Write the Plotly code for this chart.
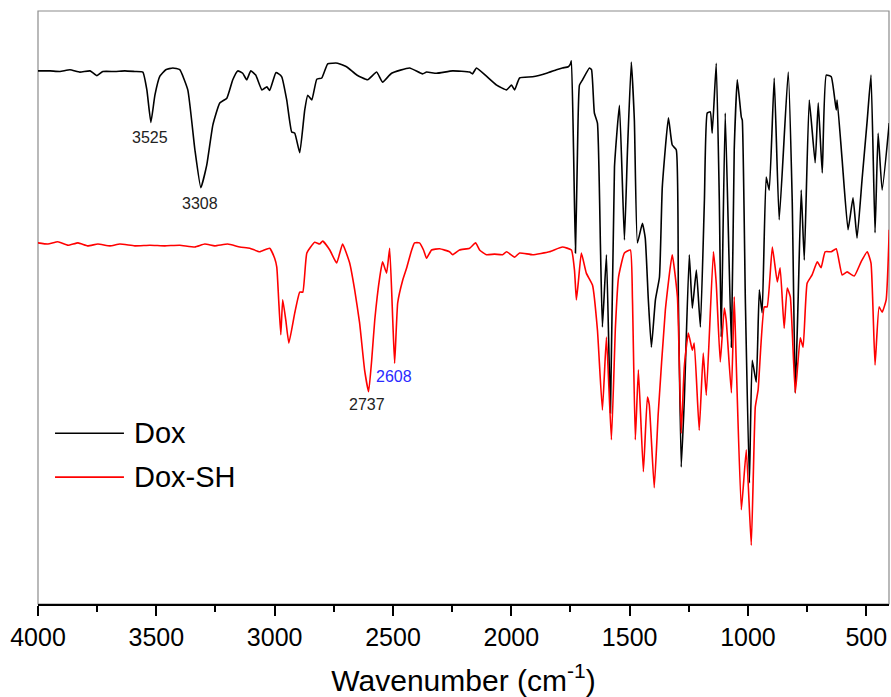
import plotly.graph_objects as go

# ---- data (wavenumber in cm-1, transmittance in arbitrary %) ----
dox_wn = [4000, 3949, 3907, 3865, 3823, 3780, 3751, 3726, 3675, 3633, 3591, 3557, 3540, 3523, 3506,
          3485, 3460, 3430, 3401, 3367, 3337, 3312, 3287, 3261, 3232, 3202, 3177, 3156, 3135, 3118,
          3101, 3080, 3054, 3033, 3021, 2995, 2983, 2970, 2949, 2928, 2915, 2894, 2873, 2860, 2843,
          2822, 2801, 2776, 2755, 2734, 2696, 2653, 2607, 2569, 2544, 2506, 2430, 2375, 2358, 2316,
          2248, 2176, 2164, 2147, 2105, 2062, 2020, 1999, 1986, 1965, 1910, 1851, 1809, 1784, 1759,
          1750, 1746, 1737, 1729, 1721, 1712, 1699, 1670, 1661, 1649, 1636, 1623, 1615, 1598, 1581,
          1564, 1543, 1522, 1509, 1493, 1480, 1467, 1446, 1434, 1421, 1408, 1391, 1374, 1362, 1336,
          1320, 1303, 1294, 1282, 1269, 1248, 1235, 1218, 1201, 1184, 1172, 1159, 1151, 1134, 1121,
          1113, 1096, 1070, 1058, 1045, 1028, 1024, 1011, 994, 982, 965, 952, 940, 923, 910,
          889, 868, 830, 813, 800, 788, 775, 762, 741, 716, 703, 686, 669, 648, 627,
          623, 602, 577, 556, 539, 518, 496, 480, 463, 450, 433, 403]
dox_t = [89.9, 89.9, 89.8, 90.1, 89.7, 89.9, 89.1, 89.8, 89.8, 89.9, 89.8, 89.7, 86.7, 81.2, 85.8,
         89.0, 90.1, 90.4, 90.1, 86.7, 76.6, 70.2, 74.0, 80.8, 84.5, 85.3, 88.4, 89.9, 89.5, 88.4,
         89.9, 89.2, 86.7, 87.2, 86.6, 89.6, 89.4, 88.9, 85.0, 79.6, 79.4, 76.1, 83.3, 85.8, 85.0,
         88.5, 88.7, 91.1, 91.2, 91.2, 90.6, 89.2, 88.4, 89.7, 88.0, 89.5, 90.4, 89.4, 89.7, 89.5,
         89.9, 89.7, 89.4, 90.4, 89.0, 87.5, 86.7, 87.5, 86.7, 88.7, 88.9, 89.5, 90.1, 90.4, 90.6,
         91.1, 91.6, 76.6, 59.2, 74.9, 87.5, 88.4, 90.4, 90.1, 82.8, 81.1, 59.7, 46.7, 58.9, 32.2,
         73.7, 84.1, 61.4, 76.6, 91.4, 81.6, 60.9, 64.2, 61.7, 51.3, 43.3, 51.3, 55.1, 70.3, 82.0,
         77.4, 76.6, 51.3, 23.1, 34.4, 58.9, 49.9, 56.3, 46.7, 68.1, 82.8, 83.0, 79.4, 91.2, 68.1,
         45.0, 82.8, 43.3, 76.6, 88.4, 82.1, 81.6, 51.3, 20.4, 41.1, 37.4, 53.0, 49.1, 72.0, 69.8,
         88.7, 64.8, 89.7, 68.1, 35.6, 51.3, 69.8, 58.0, 85.0, 74.4, 84.5, 72.7, 89.2, 88.9, 83.3,
         85.0, 74.9, 63.1, 68.5, 61.7, 71.5, 81.6, 89.2, 62.6, 79.4, 69.8, 81.1]

doxsh_wn = [4000, 3958, 3916, 3873, 3831, 3789, 3747, 3696, 3654, 3591, 3527, 3464, 3401, 3337, 3295,
            3253, 3198, 3147, 3105, 3063, 3021, 3000, 2991, 2983, 2974, 2966, 2953, 2940, 2915, 2894,
            2881, 2864, 2831, 2810, 2797, 2767, 2738, 2713, 2683, 2662, 2641, 2620, 2603, 2590, 2577,
            2556, 2544, 2527, 2514, 2501, 2493, 2480, 2459, 2442, 2421, 2409, 2388, 2371, 2358, 2337,
            2303, 2261, 2248, 2219, 2176, 2151, 2134, 2105, 2071, 2037, 2020, 1986, 1965, 1910, 1839,
            1784, 1746, 1733, 1725, 1716, 1704, 1683, 1657, 1636, 1615, 1598, 1577, 1560, 1547, 1522,
            1497, 1488, 1476, 1463, 1442, 1425, 1417, 1396, 1379, 1349, 1320, 1298, 1282, 1269, 1252,
            1235, 1227, 1206, 1189, 1176, 1146, 1134, 1117, 1100, 1092, 1070, 1058, 1049, 1028, 1007,
            986, 969, 957, 931, 919, 897, 876, 864, 847, 834, 821, 800, 779, 767, 750,
            729, 707, 691, 674, 648, 627, 602, 581, 551, 522, 496, 480, 463, 446, 433,
            416, 403]
doxsh_t = [60.9, 60.7, 61.1, 60.5, 60.9, 60.4, 60.7, 60.4, 60.7, 60.4, 60.5, 60.4, 60.5, 60.2, 60.7,
           60.4, 60.7, 60.2, 60.0, 59.4, 60.0, 58.3, 56.8, 51.3, 45.4, 51.3, 47.9, 44.0, 49.1, 52.6,
           52.6, 59.2, 61.0, 60.7, 61.2, 59.7, 57.5, 60.7, 57.5, 53.0, 47.4, 39.5, 35.8, 41.1, 47.9,
           55.1, 57.7, 55.8, 60.0, 47.9, 40.6, 50.8, 54.6, 56.7, 59.7, 60.9, 60.9, 59.7, 58.3, 59.7,
           59.9, 59.4, 58.9, 59.7, 60.0, 60.9, 59.7, 58.9, 59.0, 58.9, 59.4, 58.5, 59.2, 58.9, 59.4,
           60.2, 59.7, 56.3, 51.3, 54.6, 59.2, 55.8, 53.8, 46.2, 32.7, 45.0, 27.7, 46.7, 55.1, 59.2,
           59.7, 51.3, 27.7, 39.5, 22.3, 34.9, 33.6, 19.6, 32.2, 49.6, 58.9, 51.8, 28.8, 40.0, 45.7,
           42.8, 44.0, 29.3, 42.3, 35.2, 59.4, 54.1, 40.8, 49.9, 47.9, 35.6, 51.8, 40.0, 15.9, 26.0,
           9.9, 33.2, 36.1, 50.1, 50.1, 60.2, 54.3, 56.7, 46.5, 53.3, 51.8, 35.6, 44.9, 43.3, 54.1,
           55.5, 57.7, 56.7, 59.4, 59.4, 59.9, 55.5, 56.0, 55.3, 57.7, 59.4, 57.5, 40.3, 50.1, 49.2,
           51.3, 63.1]

series_names = ["Dox", "Dox-SH"]
series_colors = ["#000000", "#ff0000"]

peak_labels = ["3525", "3308", "2737", "2608"]
peak_label_wn = [3527, 3316, 2611, 2495]
peak_label_t = [78.6, 67.6, 33.6, 38.4]
peak_label_colors = ["#222222", "#222222", "#222222", "#2a2aff"]

tick_vals = [4000, 3500, 3000, 2500, 2000, 1500, 1000, 500]

FONT = "Liberation Sans, Arial, sans-serif"

fig = go.Figure()
for name, wn, t, col in zip(series_names, [dox_wn, doxsh_wn], [dox_t, doxsh_t], series_colors):
    fig.add_trace(go.Scatter(x=wn, y=t, mode="lines", name=name,
                             line=dict(color=col, width=1.6, shape="spline", smoothing=0.4),
                             showlegend=False))

annotations = []
for lab, xw, yt, c in zip(peak_labels, peak_label_wn, peak_label_t, peak_label_colors):
    annotations.append(dict(x=xw, y=yt, xref="x", yref="y", text=lab, showarrow=False,
                            font=dict(family=FONT, size=16, color=c)))

# manual legend (long line samples like the original)
leg_y = [0.288, 0.214]
shapes = [dict(type="rect", xref="paper", yref="paper", x0=0, x1=1, y0=0, y1=1,
               line=dict(color="#8c8c8c", width=1.2), layer="below")]
for name, col, ly in zip(series_names, series_colors, leg_y):
    shapes.append(dict(type="line", xref="paper", yref="paper", x0=0.020, x1=0.101, y0=ly, y1=ly,
                       line=dict(color=col, width=1.6)))
    annotations.append(dict(x=0.111, y=ly, xref="paper", yref="paper", text=name, showarrow=False,
                            xanchor="left", yanchor="middle",
                            font=dict(family=FONT, size=29, color="#000000")))

fig.update_layout(
    width=891, height=697,
    margin=dict(l=38, r=2, t=11, b=93),
    paper_bgcolor="white", plot_bgcolor="white",
    font=dict(family=FONT, color="#000000"),
    shapes=shapes, annotations=annotations,
    xaxis=dict(range=[4000, 404], tickvals=tick_vals, ticktext=[str(v) for v in tick_vals],
               ticks="outside", ticklen=10, tickwidth=2, tickcolor="#000000",
               showline=True, linecolor="#000000", linewidth=2, showgrid=False, zeroline=False,
               tickfont=dict(family=FONT, size=25, color="#000000"),
               minor=dict(dtick=250, tick0=0, ticks="outside", ticklen=6, tickwidth=2, tickcolor="#000000"),
               title=dict(text="Wavenumber (cm<sup>-1</sup>)", font=dict(family=FONT, size=30, color="#000000"),
                          standoff=22)),
    yaxis=dict(range=[0, 100], showticklabels=False, ticks="", showgrid=False, zeroline=False, showline=False),
)

fig.write_html("out.html")
